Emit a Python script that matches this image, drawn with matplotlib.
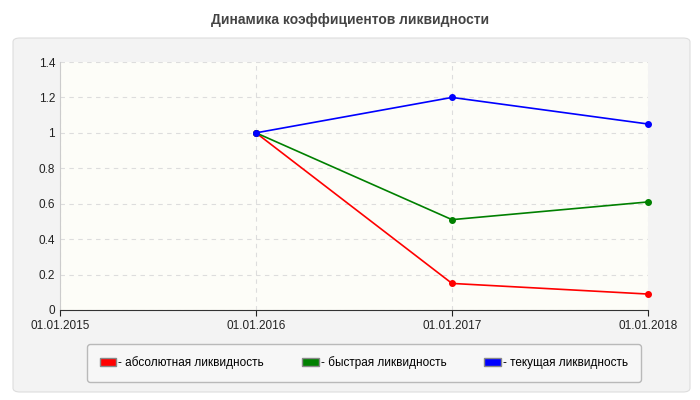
import matplotlib
matplotlib.use("Agg")
import matplotlib.pyplot as plt
from matplotlib.patches import FancyBboxPatch

x_labels = ["01.01.2015", "01.01.2016", "01.01.2017", "01.01.2018"]
x_idx = [1, 2, 3]
absolute = [1.0, 0.15, 0.09]
quick = [1.0, 0.51, 0.61]
current = [1.0, 1.2, 1.05]
names = ["- абсолютная ликвидность", "- быстрая ликвидность", "- текущая ликвидность"]
colors = ["#ff0000", "#008000", "#0000ff"]

plt.rcParams['font.family'] = ['Liberation Sans', 'DejaVu Sans']
fig = plt.figure(figsize=(7, 4), dpi=100)
fig.patch.set_facecolor("white")
bg = FancyBboxPatch((13/700, 8/400), 677/700, 354/400,
    boxstyle="round,pad=0,rounding_size=0.01", transform=fig.transFigure,
    facecolor="#f3f3f3", edgecolor="#dddddd", lw=0.8, zorder=-10)
fig.patches.append(bg)
fig.text(0.5, 1-20/400, "Динамика коэффициентов ликвидности", ha="center", va="center",
         fontsize=10, fontweight="bold", color="#444444")
ax = fig.add_axes([60/700, 1-310/400, 588/700, 248/400])
ax.set_facecolor("#fdfdf8")
for s, c, n in zip([absolute, quick, current], colors, names):
    ax.plot(x_idx, s, color=c, lw=1.2, marker="o", ms=4, label=n, clip_on=False)
ax.set_xlim(0, 3)
ax.set_ylim(0, 1.4)
ax.set_xticks(range(4))
ax.set_xticklabels(x_labels)
ax.set_yticks([0, 0.2, 0.4, 0.6, 0.8, 1, 1.2, 1.4])
ax.set_yticklabels(["0", "0.2", "0.4", "0.6", "0.8", "1", "1.2", "1.4"])
ax.tick_params(labelsize=8.5, colors="#222222", length=4, direction="out")
ax.tick_params(axis="y", length=0)
ax.grid(True, color="#dddddd", ls=(0, (4, 4)), lw=0.8)
for sp in ["top", "right"]:
    ax.spines[sp].set_visible(False)
ax.spines["left"].set_color("#cccccc")
ax.spines["bottom"].set_color("#333333")
handles = [plt.Rectangle((0, 0), 1, 1, fc=c, ec="#888888") for c in colors]
leg = fig.legend(handles, names, loc="center", bbox_to_anchor=(364/700, 1-363/400),
                 ncol=3, fontsize=8.5, frameon=True, handlelength=1.4, handleheight=0.7,
                 handletextpad=0.2, columnspacing=3.2, borderpad=1.1, borderaxespad=0)
leg.get_frame().set_edgecolor("#aaaaaa")
leg.get_frame().set_facecolor("#f9f9f9")
leg.get_frame().set_boxstyle("round,pad=0,rounding_size=0.3")
fig.savefig("out.png", dpi=100)
